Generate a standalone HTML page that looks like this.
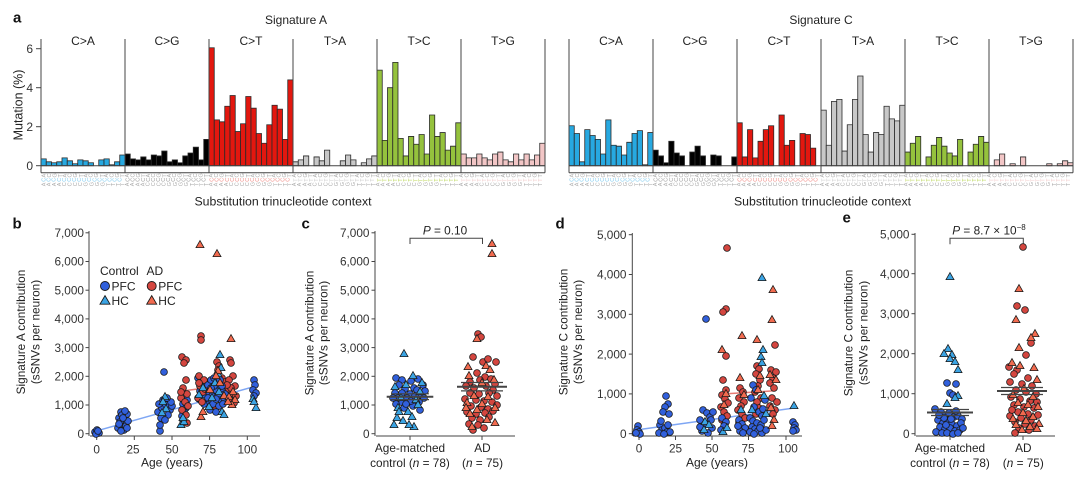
<!DOCTYPE html>
<html><head><meta charset="utf-8"><style>
html,body{margin:0;padding:0;background:#fff;}
svg{display:block;font-family:"Liberation Sans",Arial,sans-serif;}
</style></head><body>
<svg width="1080" height="479" viewBox="0 0 1080 479" xmlns="http://www.w3.org/2000/svg">
<defs>
<path id="t" d="M0,-4.4 L4,2.6 L-4,2.6 Z"/>
<path id="tl" d="M0,-5.4 L5,3.2 L-5,3.2 Z"/>
</defs>
<rect width="1080" height="479" fill="#fff"/>

<!-- ============ PANEL a ============ -->
<text x="13" y="22.7" font-size="15" font-weight="bold" fill="#111">a</text>
<text x="296" y="24" font-size="12" text-anchor="middle" fill="#222">Signature A</text>
<text x="821" y="24" font-size="12" text-anchor="middle" fill="#222">Signature C</text>

<g font-size="12" text-anchor="middle" fill="#222">
<text x="83" y="45">C&gt;A</text><text x="167" y="45">C&gt;G</text><text x="251" y="45">C&gt;T</text>
<text x="335" y="45">T&gt;A</text><text x="419" y="45">T&gt;C</text><text x="503" y="45">T&gt;G</text>
<text x="611" y="45">C&gt;A</text><text x="695" y="45">C&gt;G</text><text x="779" y="45">C&gt;T</text>
<text x="863" y="45">T&gt;A</text><text x="947" y="45">T&gt;C</text><text x="1031" y="45">T&gt;G</text>
</g>

<text transform="translate(22.5,105) rotate(-90)" font-size="12.5" text-anchor="middle" fill="#222">Mutation (%)</text>
<g font-size="12" text-anchor="end" fill="#333">
<text x="33" y="52.9">6</text><text x="33" y="91.9">4</text><text x="33" y="130.9">2</text><text x="33" y="169.9">0</text>
</g>
<g stroke="#444" stroke-width="1">
<line x1="36" y1="48.7" x2="41" y2="48.7"/><line x1="36" y1="87.7" x2="41" y2="87.7"/>
<line x1="36" y1="126.7" x2="41" y2="126.7"/><line x1="36" y1="165.7" x2="41" y2="165.7"/>
</g>

<!-- Signature A bars -->
<g transform="translate(41,165.7) scale(5.25,-19.5)" stroke="#2a2a2a" stroke-width="0.8">
<g fill="#27a9e1">
<rect vector-effect="non-scaling-stroke" x="0" width="1" height="0.35"/><rect vector-effect="non-scaling-stroke" x="1" width="1" height="0.2"/><rect vector-effect="non-scaling-stroke" x="2" width="1" height="0.15"/><rect vector-effect="non-scaling-stroke" x="3" width="1" height="0.2"/><rect vector-effect="non-scaling-stroke" x="4" width="1" height="0.4"/><rect vector-effect="non-scaling-stroke" x="5" width="1" height="0.25"/><rect vector-effect="non-scaling-stroke" x="6" width="1" height="0.1"/><rect vector-effect="non-scaling-stroke" x="7" width="1" height="0.3"/><rect vector-effect="non-scaling-stroke" x="8" width="1" height="0.25"/><rect vector-effect="non-scaling-stroke" x="9" width="1" height="0.15"/><rect vector-effect="non-scaling-stroke" x="11" width="1" height="0.3"/><rect vector-effect="non-scaling-stroke" x="12" width="1" height="0.35"/><rect vector-effect="non-scaling-stroke" x="13" width="1" height="0.05"/><rect vector-effect="non-scaling-stroke" x="14" width="1" height="0.2"/><rect vector-effect="non-scaling-stroke" x="15" width="1" height="0.55"/>
</g>
<g fill="#000">
<rect vector-effect="non-scaling-stroke" x="16" width="1" height="0.6"/><rect vector-effect="non-scaling-stroke" x="17" width="1" height="0.35"/><rect vector-effect="non-scaling-stroke" x="18" width="1" height="0.3"/><rect vector-effect="non-scaling-stroke" x="19" width="1" height="0.45"/><rect vector-effect="non-scaling-stroke" x="20" width="1" height="0.3"/><rect vector-effect="non-scaling-stroke" x="21" width="1" height="0.55"/><rect vector-effect="non-scaling-stroke" x="22" width="1" height="0.5"/><rect vector-effect="non-scaling-stroke" x="23" width="1" height="0.75"/><rect vector-effect="non-scaling-stroke" x="24" width="1" height="0.2"/><rect vector-effect="non-scaling-stroke" x="25" width="1" height="0.3"/><rect vector-effect="non-scaling-stroke" x="26" width="1" height="0.15"/><rect vector-effect="non-scaling-stroke" x="27" width="1" height="0.5"/><rect vector-effect="non-scaling-stroke" x="28" width="1" height="0.65"/><rect vector-effect="non-scaling-stroke" x="29" width="1" height="0.95"/><rect vector-effect="non-scaling-stroke" x="30" width="1" height="0.3"/><rect vector-effect="non-scaling-stroke" x="31" width="1" height="1.35"/>
</g>
<g fill="#e3170f">
<rect vector-effect="non-scaling-stroke" x="32" width="1" height="6.05"/><rect vector-effect="non-scaling-stroke" x="33" width="1" height="2.35"/><rect vector-effect="non-scaling-stroke" x="34" width="1" height="2.25"/><rect vector-effect="non-scaling-stroke" x="35" width="1" height="3.05"/><rect vector-effect="non-scaling-stroke" x="36" width="1" height="3.6"/><rect vector-effect="non-scaling-stroke" x="37" width="1" height="1.75"/><rect vector-effect="non-scaling-stroke" x="38" width="1" height="2.15"/><rect vector-effect="non-scaling-stroke" x="39" width="1" height="3.55"/><rect vector-effect="non-scaling-stroke" x="40" width="1" height="2.95"/><rect vector-effect="non-scaling-stroke" x="41" width="1" height="1.65"/><rect vector-effect="non-scaling-stroke" x="42" width="1" height="1.15"/><rect vector-effect="non-scaling-stroke" x="43" width="1" height="2.1"/><rect vector-effect="non-scaling-stroke" x="44" width="1" height="3.1"/><rect vector-effect="non-scaling-stroke" x="45" width="1" height="2.9"/><rect vector-effect="non-scaling-stroke" x="46" width="1" height="1.35"/><rect vector-effect="non-scaling-stroke" x="47" width="1" height="4.4"/>
</g>
<g fill="#c8c8c8">
<rect vector-effect="non-scaling-stroke" x="48" width="1" height="0.2"/><rect vector-effect="non-scaling-stroke" x="49" width="1" height="0.3"/><rect vector-effect="non-scaling-stroke" x="50" width="1" height="0.5"/><rect vector-effect="non-scaling-stroke" x="52" width="1" height="0.45"/><rect vector-effect="non-scaling-stroke" x="53" width="1" height="0.25"/><rect vector-effect="non-scaling-stroke" x="54" width="1" height="0.8"/><rect vector-effect="non-scaling-stroke" x="57" width="1" height="0.25"/><rect vector-effect="non-scaling-stroke" x="58" width="1" height="0.55"/><rect vector-effect="non-scaling-stroke" x="59" width="1" height="0.3"/><rect vector-effect="non-scaling-stroke" x="61" width="1" height="0.15"/><rect vector-effect="non-scaling-stroke" x="62" width="1" height="0.35"/><rect vector-effect="non-scaling-stroke" x="63" width="1" height="0.5"/>
</g>
<g fill="#95c23d">
<rect vector-effect="non-scaling-stroke" x="64" width="1" height="4.9"/><rect vector-effect="non-scaling-stroke" x="65" width="1" height="1.3"/><rect vector-effect="non-scaling-stroke" x="66" width="1" height="4.0"/><rect vector-effect="non-scaling-stroke" x="67" width="1" height="5.3"/><rect vector-effect="non-scaling-stroke" x="68" width="1" height="1.4"/><rect vector-effect="non-scaling-stroke" x="69" width="1" height="0.5"/><rect vector-effect="non-scaling-stroke" x="70" width="1" height="1.5"/><rect vector-effect="non-scaling-stroke" x="71" width="1" height="1.1"/><rect vector-effect="non-scaling-stroke" x="72" width="1" height="1.6"/><rect vector-effect="non-scaling-stroke" x="73" width="1" height="0.6"/><rect vector-effect="non-scaling-stroke" x="74" width="1" height="2.6"/><rect vector-effect="non-scaling-stroke" x="75" width="1" height="1.5"/><rect vector-effect="non-scaling-stroke" x="76" width="1" height="1.7"/><rect vector-effect="non-scaling-stroke" x="77" width="1" height="0.8"/><rect vector-effect="non-scaling-stroke" x="78" width="1" height="1.0"/><rect vector-effect="non-scaling-stroke" x="79" width="1" height="2.2"/>
</g>
<g fill="#f2c6c6">
<rect vector-effect="non-scaling-stroke" x="80" width="1" height="0.6"/><rect vector-effect="non-scaling-stroke" x="81" width="1" height="0.4"/><rect vector-effect="non-scaling-stroke" x="82" width="1" height="0.4"/><rect vector-effect="non-scaling-stroke" x="83" width="1" height="0.6"/><rect vector-effect="non-scaling-stroke" x="84" width="1" height="0.4"/><rect vector-effect="non-scaling-stroke" x="85" width="1" height="0.3"/><rect vector-effect="non-scaling-stroke" x="86" width="1" height="0.6"/><rect vector-effect="non-scaling-stroke" x="87" width="1" height="0.7"/><rect vector-effect="non-scaling-stroke" x="88" width="1" height="0.3"/><rect vector-effect="non-scaling-stroke" x="89" width="1" height="0.2"/><rect vector-effect="non-scaling-stroke" x="90" width="1" height="0.6"/><rect vector-effect="non-scaling-stroke" x="91" width="1" height="0.3"/><rect vector-effect="non-scaling-stroke" x="92" width="1" height="0.6"/><rect vector-effect="non-scaling-stroke" x="93" width="1" height="0.3"/><rect vector-effect="non-scaling-stroke" x="94" width="1" height="0.55"/><rect vector-effect="non-scaling-stroke" x="95" width="1" height="1.15"/>
</g>
</g>

<!-- Signature C bars -->
<g transform="translate(569,165.7) scale(5.25,-19.5)" stroke="#2a2a2a" stroke-width="0.8">
<g fill="#27a9e1">
<rect vector-effect="non-scaling-stroke" x="0" width="1" height="2.05"/><rect vector-effect="non-scaling-stroke" x="1" width="1" height="1.65"/><rect vector-effect="non-scaling-stroke" x="2" width="1" height="0.2"/><rect vector-effect="non-scaling-stroke" x="3" width="1" height="1.85"/><rect vector-effect="non-scaling-stroke" x="4" width="1" height="1.55"/><rect vector-effect="non-scaling-stroke" x="5" width="1" height="1.35"/><rect vector-effect="non-scaling-stroke" x="6" width="1" height="0.6"/><rect vector-effect="non-scaling-stroke" x="7" width="1" height="2.35"/><rect vector-effect="non-scaling-stroke" x="8" width="1" height="1.05"/><rect vector-effect="non-scaling-stroke" x="9" width="1" height="1.0"/><rect vector-effect="non-scaling-stroke" x="10" width="1" height="0.55"/><rect vector-effect="non-scaling-stroke" x="11" width="1" height="1.2"/><rect vector-effect="non-scaling-stroke" x="12" width="1" height="1.65"/><rect vector-effect="non-scaling-stroke" x="13" width="1" height="1.8"/><rect vector-effect="non-scaling-stroke" x="14" width="1" height="0.05"/><rect vector-effect="non-scaling-stroke" x="15" width="1" height="1.7"/>
</g>
<g fill="#000">
<rect vector-effect="non-scaling-stroke" x="16" width="1" height="0.8"/><rect vector-effect="non-scaling-stroke" x="17" width="1" height="0.5"/><rect vector-effect="non-scaling-stroke" x="18" width="1" height="0.15"/><rect vector-effect="non-scaling-stroke" x="19" width="1" height="1.25"/><rect vector-effect="non-scaling-stroke" x="20" width="1" height="0.65"/><rect vector-effect="non-scaling-stroke" x="21" width="1" height="0.5"/><rect vector-effect="non-scaling-stroke" x="23" width="1" height="0.7"/><rect vector-effect="non-scaling-stroke" x="24" width="1" height="1.0"/><rect vector-effect="non-scaling-stroke" x="25" width="1" height="0.5"/><rect vector-effect="non-scaling-stroke" x="27" width="1" height="0.55"/><rect vector-effect="non-scaling-stroke" x="28" width="1" height="0.5"/><rect vector-effect="non-scaling-stroke" x="31" width="1" height="0.45"/>
</g>
<g fill="#e3170f">
<rect vector-effect="non-scaling-stroke" x="32" width="1" height="2.2"/><rect vector-effect="non-scaling-stroke" x="33" width="1" height="0.45"/><rect vector-effect="non-scaling-stroke" x="34" width="1" height="1.85"/><rect vector-effect="non-scaling-stroke" x="35" width="1" height="0.4"/><rect vector-effect="non-scaling-stroke" x="36" width="1" height="1.25"/><rect vector-effect="non-scaling-stroke" x="37" width="1" height="1.85"/><rect vector-effect="non-scaling-stroke" x="38" width="1" height="2.05"/><rect vector-effect="non-scaling-stroke" x="40" width="1" height="2.6"/><rect vector-effect="non-scaling-stroke" x="41" width="1" height="1.05"/><rect vector-effect="non-scaling-stroke" x="42" width="1" height="1.3"/><rect vector-effect="non-scaling-stroke" x="44" width="1" height="1.65"/><rect vector-effect="non-scaling-stroke" x="45" width="1" height="1.6"/><rect vector-effect="non-scaling-stroke" x="46" width="1" height="0.9"/>
</g>
<g fill="#c8c8c8">
<rect vector-effect="non-scaling-stroke" x="48" width="1" height="2.85"/><rect vector-effect="non-scaling-stroke" x="49" width="1" height="1.05"/><rect vector-effect="non-scaling-stroke" x="50" width="1" height="3.3"/><rect vector-effect="non-scaling-stroke" x="51" width="1" height="3.4"/><rect vector-effect="non-scaling-stroke" x="52" width="1" height="0.75"/><rect vector-effect="non-scaling-stroke" x="53" width="1" height="2.1"/><rect vector-effect="non-scaling-stroke" x="54" width="1" height="3.4"/><rect vector-effect="non-scaling-stroke" x="55" width="1" height="4.6"/><rect vector-effect="non-scaling-stroke" x="56" width="1" height="1.6"/><rect vector-effect="non-scaling-stroke" x="57" width="1" height="0.7"/><rect vector-effect="non-scaling-stroke" x="58" width="1" height="1.7"/><rect vector-effect="non-scaling-stroke" x="59" width="1" height="1.6"/><rect vector-effect="non-scaling-stroke" x="60" width="1" height="3.05"/><rect vector-effect="non-scaling-stroke" x="61" width="1" height="2.4"/><rect vector-effect="non-scaling-stroke" x="62" width="1" height="2.3"/><rect vector-effect="non-scaling-stroke" x="63" width="1" height="3.1"/>
</g>
<g fill="#95c23d">
<rect vector-effect="non-scaling-stroke" x="64" width="1" height="0.7"/><rect vector-effect="non-scaling-stroke" x="65" width="1" height="1.15"/><rect vector-effect="non-scaling-stroke" x="66" width="1" height="1.5"/><rect vector-effect="non-scaling-stroke" x="68" width="1" height="0.45"/><rect vector-effect="non-scaling-stroke" x="69" width="1" height="1.05"/><rect vector-effect="non-scaling-stroke" x="70" width="1" height="1.45"/><rect vector-effect="non-scaling-stroke" x="71" width="1" height="1.0"/><rect vector-effect="non-scaling-stroke" x="72" width="1" height="0.65"/><rect vector-effect="non-scaling-stroke" x="73" width="1" height="0.5"/><rect vector-effect="non-scaling-stroke" x="74" width="1" height="1.35"/><rect vector-effect="non-scaling-stroke" x="76" width="1" height="0.7"/><rect vector-effect="non-scaling-stroke" x="77" width="1" height="1.1"/><rect vector-effect="non-scaling-stroke" x="78" width="1" height="1.5"/><rect vector-effect="non-scaling-stroke" x="79" width="1" height="1.2"/>
</g>
<g fill="#f2c6c6">
<rect vector-effect="non-scaling-stroke" x="81" width="1" height="0.3"/><rect vector-effect="non-scaling-stroke" x="82" width="1" height="0.6"/><rect vector-effect="non-scaling-stroke" x="84" width="1" height="0.1"/><rect vector-effect="non-scaling-stroke" x="86" width="1" height="0.45"/><rect vector-effect="non-scaling-stroke" x="91" width="1" height="0.1"/><rect vector-effect="non-scaling-stroke" x="93" width="1" height="0.1"/><rect vector-effect="non-scaling-stroke" x="94" width="1" height="0.25"/><rect vector-effect="non-scaling-stroke" x="95" width="1" height="0.15"/>
</g>
</g>

<!-- frame lines top panels -->
<g stroke="#444" stroke-width="1">
<line x1="41" y1="165.7" x2="545" y2="165.7"/><line x1="41" y1="172.7" x2="545" y2="172.7"/>
<line x1="569" y1="165.7" x2="1073" y2="165.7"/><line x1="569" y1="172.7" x2="1073" y2="172.7"/>
<line x1="41" y1="39" x2="41" y2="172.7"/><line x1="125" y1="39" x2="125" y2="172.7"/><line x1="209" y1="39" x2="209" y2="172.7"/><line x1="293" y1="39" x2="293" y2="172.7"/><line x1="377" y1="39" x2="377" y2="172.7"/><line x1="461" y1="39" x2="461" y2="172.7"/><line x1="545" y1="39" x2="545" y2="172.7"/>
<line x1="569" y1="39" x2="569" y2="172.7"/><line x1="653" y1="39" x2="653" y2="172.7"/><line x1="737" y1="39" x2="737" y2="172.7"/><line x1="821" y1="39" x2="821" y2="172.7"/><line x1="905" y1="39" x2="905" y2="172.7"/><line x1="989" y1="39" x2="989" y2="172.7"/><line x1="1073" y1="39" x2="1073" y2="172.7"/>
</g>

<!-- trinucleotide context labels -->
<g font-size="5.5" rotate="-90">
<text x="45.6" y="177.5" rotate="-90" textLength="500" lengthAdjust="spacing" fill="#aaa">ACGTACGTACGTACGTACGTACGTACGTACGTACGTACGTACGTACGTACGTACGTACGTACGTACGTACGTACGTACGTACGTACGTACGTACGT</text>
<text x="45.6" y="181.8" rotate="-90" textLength="80" lengthAdjust="spacing" fill="#7fcbef">CCCCCCCCCCCCCCCC</text>
<text x="129.6" y="181.8" rotate="-90" textLength="80" lengthAdjust="spacing" fill="#999">CCCCCCCCCCCCCCCC</text>
<text x="213.6" y="181.8" rotate="-90" textLength="80" lengthAdjust="spacing" fill="#f08a84">CCCCCCCCCCCCCCCC</text>
<text x="297.6" y="181.8" rotate="-90" textLength="80" lengthAdjust="spacing" fill="#ccc">TTTTTTTTTTTTTTTT</text>
<text x="381.6" y="181.8" rotate="-90" textLength="80" lengthAdjust="spacing" fill="#bcd65a">TTTTTTTTTTTTTTTT</text>
<text x="465.6" y="181.8" rotate="-90" textLength="80" lengthAdjust="spacing" fill="#f2cccc">TTTTTTTTTTTTTTTT</text>
<text x="45.6" y="186.3" rotate="-90" textLength="500" lengthAdjust="spacing" fill="#aaa">AAAACCCCGGGGTTTTAAAACCCCGGGGTTTTAAAACCCCGGGGTTTTAAAACCCCGGGGTTTTAAAACCCCGGGGTTTTAAAACCCCGGGGTTTT</text>

<text x="573.6" y="177.5" rotate="-90" textLength="500" lengthAdjust="spacing" fill="#aaa">ACGTACGTACGTACGTACGTACGTACGTACGTACGTACGTACGTACGTACGTACGTACGTACGTACGTACGTACGTACGTACGTACGTACGTACGT</text>
<text x="573.6" y="181.8" rotate="-90" textLength="80" lengthAdjust="spacing" fill="#7fcbef">CCCCCCCCCCCCCCCC</text>
<text x="657.6" y="181.8" rotate="-90" textLength="80" lengthAdjust="spacing" fill="#999">CCCCCCCCCCCCCCCC</text>
<text x="741.6" y="181.8" rotate="-90" textLength="80" lengthAdjust="spacing" fill="#f08a84">CCCCCCCCCCCCCCCC</text>
<text x="825.6" y="181.8" rotate="-90" textLength="80" lengthAdjust="spacing" fill="#ccc">TTTTTTTTTTTTTTTT</text>
<text x="909.6" y="181.8" rotate="-90" textLength="80" lengthAdjust="spacing" fill="#bcd65a">TTTTTTTTTTTTTTTT</text>
<text x="993.6" y="181.8" rotate="-90" textLength="80" lengthAdjust="spacing" fill="#f2cccc">TTTTTTTTTTTTTTTT</text>
<text x="573.6" y="186.3" rotate="-90" textLength="500" lengthAdjust="spacing" fill="#aaa">AAAACCCCGGGGTTTTAAAACCCCGGGGTTTTAAAACCCCGGGGTTTTAAAACCCCGGGGTTTTAAAACCCCGGGGTTTTAAAACCCCGGGGTTTT</text>
</g>

<text x="283" y="205.5" font-size="12.3" text-anchor="middle" fill="#222">Substitution trinucleotide context</text>
<text x="822.5" y="205.5" font-size="12.3" text-anchor="middle" fill="#222">Substitution trinucleotide context</text>

<!-- ============ PANEL b ============ -->
<text x="12.5" y="228.3" font-size="15" font-weight="bold" fill="#111">b</text>
<text transform="translate(25,332) rotate(-90)" font-size="11.8" text-anchor="middle" fill="#222">Signature A contribution</text>
<text transform="translate(39.3,332) rotate(-90)" font-size="11.8" text-anchor="middle" fill="#222">(sSNVs per neuron)</text>
<g font-size="11.8" text-anchor="end" fill="#333">
<text x="84" y="437.9">0</text><text x="84" y="409.2">1,000</text><text x="84" y="380.5">2,000</text><text x="84" y="351.8">3,000</text><text x="84" y="323.1">4,000</text><text x="84" y="294.4">5,000</text><text x="84" y="265.7">6,000</text><text x="84" y="237">7,000</text>
</g>
<g stroke="#444" stroke-width="1">
<line x1="89" y1="231" x2="89" y2="436"/>
<line x1="85.5" y1="433.7" x2="89" y2="433.7"/><line x1="85.5" y1="405" x2="89" y2="405"/><line x1="85.5" y1="376.3" x2="89" y2="376.3"/><line x1="85.5" y1="347.6" x2="89" y2="347.6"/><line x1="85.5" y1="318.9" x2="89" y2="318.9"/><line x1="85.5" y1="290.2" x2="89" y2="290.2"/><line x1="85.5" y1="261.5" x2="89" y2="261.5"/><line x1="85.5" y1="232.8" x2="89" y2="232.8"/>
<line x1="90" y1="436" x2="260" y2="436"/>
<line x1="96.7" y1="436" x2="96.7" y2="440"/><line x1="134.3" y1="436" x2="134.3" y2="440"/><line x1="172" y1="436" x2="172" y2="440"/><line x1="209.6" y1="436" x2="209.6" y2="440"/><line x1="247.3" y1="436" x2="247.3" y2="440"/>
</g>
<g font-size="11.8" text-anchor="middle" fill="#333">
<text x="96.7" y="453.3">0</text><text x="133" y="453.3">25</text><text x="172" y="453.3">50</text><text x="209.5" y="453.3">75</text><text x="247.3" y="453.3">100</text>
</g>
<text x="172" y="466.5" font-size="12" text-anchor="middle" fill="#222">Age (years)</text>

<!-- legend -->
<g font-size="12" fill="#222">
<text x="100" y="275">Control</text><text x="146.5" y="275">AD</text>
<text x="111.5" y="290.3">PFC</text><text x="158.3" y="290.3">PFC</text>
<text x="111.5" y="305">HC</text><text x="158.3" y="305">HC</text>
</g>
<g stroke="#1a1a1a" stroke-width="0.9">
<circle cx="105" cy="286" r="4.5" fill="#3160dc"/>
<circle cx="151.7" cy="286" r="4.5" fill="#d4463f"/>
<use href="#tl" x="105" y="301" fill="#3ba4e4"/>
<use href="#tl" x="151.7" y="301" fill="#f26b4f"/>
</g>

<line x1="97" y1="430.8" x2="255" y2="386.3" stroke="#7ea6f4" stroke-width="1.5"/>
<line x1="182.5" y1="391" x2="235" y2="384" stroke="#e77b74" stroke-width="1.5"/>

<g stroke="#1a1a1a" stroke-width="0.8">
<g fill="#3160dc">
<circle cx="95" cy="432" r="3.4"/><circle cx="97" cy="430" r="3.4"/><circle cx="99" cy="433" r="3.4"/><circle cx="96" cy="434" r="3.4"/><circle cx="98" cy="431" r="3.4"/>
<circle cx="119" cy="418" r="3.4"/><circle cx="121" cy="412" r="3.4"/><circle cx="123" cy="425" r="3.4"/><circle cx="118" cy="428" r="3.4"/><circle cx="125" cy="420" r="3.4"/><circle cx="127" cy="414" r="3.4"/><circle cx="120" cy="422" r="3.4"/><circle cx="124" cy="430" r="3.4"/><circle cx="126" cy="426" r="3.4"/><circle cx="122" cy="415" r="3.4"/><circle cx="128" cy="421" r="3.4"/><circle cx="119" cy="424" r="3.4"/><circle cx="121" cy="431" r="3.4"/><circle cx="125" cy="411" r="3.4"/><circle cx="127" cy="428" r="3.4"/><circle cx="123" cy="418" r="3.4"/>
<circle cx="164" cy="372" r="3.4"/><circle cx="160" cy="431" r="3.4"/><circle cx="158" cy="412" r="3.4"/><circle cx="162" cy="408" r="3.4"/><circle cx="166" cy="405" r="3.4"/><circle cx="170" cy="410" r="3.4"/><circle cx="172" cy="406" r="3.4"/><circle cx="168" cy="415" r="3.4"/><circle cx="161" cy="418" r="3.4"/><circle cx="165" cy="420" r="3.4"/><circle cx="159" cy="404" r="3.4"/><circle cx="163" cy="400" r="3.4"/><circle cx="171" cy="402" r="3.4"/><circle cx="167" cy="398" r="3.4"/><circle cx="160" cy="425" r="3.4"/>
<circle cx="183" cy="404" r="3.4"/><circle cx="186" cy="408" r="3.4"/><circle cx="184" cy="412" r="3.4"/><circle cx="182" cy="416" r="3.4"/><circle cx="187" cy="400" r="3.4"/>
<circle cx="198" cy="378" r="3.4"/><circle cx="202" cy="384" r="3.4"/><circle cx="205" cy="395" r="3.4"/><circle cx="199" cy="399" r="3.4"/><circle cx="204" cy="404" r="3.4"/><circle cx="200" cy="391" r="3.4"/>
<circle cx="254" cy="380" r="3.4"/><circle cx="255" cy="385" r="3.4"/><circle cx="253" cy="390" r="3.4"/><circle cx="256" cy="393" r="3.4"/><circle cx="254" cy="396" r="3.4"/>
</g>
<g fill="#d4463f">
<circle cx="182" cy="357" r="3.4"/><circle cx="186" cy="360" r="3.4"/><circle cx="184" cy="363" r="3.4"/><circle cx="186" cy="380" r="3.4"/><circle cx="183" cy="388" r="3.4"/><circle cx="187" cy="394" r="3.4"/><circle cx="181" cy="398" r="3.4"/><circle cx="185" cy="402" r="3.4"/><circle cx="188" cy="406" r="3.4"/><circle cx="182" cy="410" r="3.4"/><circle cx="186" cy="415" r="3.4"/><circle cx="183" cy="420" r="3.4"/><circle cx="187" cy="423" r="3.4"/><circle cx="181" cy="392" r="3.4"/>
<circle cx="201" cy="336" r="3.4"/><circle cx="201" cy="340" r="3.4"/><circle cx="199" cy="376" r="3.4"/><circle cx="204" cy="380" r="3.4"/><circle cx="200" cy="386" r="3.4"/><circle cx="203" cy="392" r="3.4"/><circle cx="198" cy="398" r="3.4"/><circle cx="202" cy="402" r="3.4"/><circle cx="205" cy="389" r="3.4"/><circle cx="199" cy="383" r="3.4"/>
<circle cx="217" cy="362" r="3.4"/><circle cx="219" cy="366" r="3.4"/><circle cx="218" cy="370" r="3.4"/><circle cx="214" cy="395" r="3.4"/><circle cx="211" cy="402" r="3.4"/><circle cx="216" cy="408" r="3.4"/><circle cx="222" cy="378" r="3.4"/><circle cx="225" cy="382" r="3.4"/><circle cx="213" cy="386" r="3.4"/>
<circle cx="230" cy="360" r="3.4"/><circle cx="231" cy="363" r="3.4"/><circle cx="233" cy="376" r="3.4"/><circle cx="229" cy="380" r="3.4"/><circle cx="235" cy="386" r="3.4"/><circle cx="228" cy="390" r="3.4"/><circle cx="232" cy="393" r="3.4"/><circle cx="236" cy="396" r="3.4"/><circle cx="230" cy="400" r="3.4"/><circle cx="234" cy="403" r="3.4"/><circle cx="231" cy="388" r="3.4"/><circle cx="227" cy="385" r="3.4"/>
</g>
<g fill="#3160dc">
<circle cx="208" cy="385" r="3.4"/><circle cx="211" cy="380" r="3.4"/><circle cx="214" cy="378" r="3.4"/><circle cx="217" cy="384" r="3.4"/><circle cx="220" cy="388" r="3.4"/><circle cx="223" cy="392" r="3.4"/><circle cx="209" cy="392" r="3.4"/><circle cx="212" cy="396" r="3.4"/><circle cx="215" cy="390" r="3.4"/><circle cx="218" cy="396" r="3.4"/><circle cx="221" cy="400" r="3.4"/><circle cx="224" cy="398" r="3.4"/><circle cx="210" cy="402" r="3.4"/><circle cx="213" cy="404" r="3.4"/><circle cx="216" cy="399" r="3.4"/><circle cx="219" cy="406" r="3.4"/><circle cx="222" cy="386" r="3.4"/><circle cx="225" cy="394" r="3.4"/><circle cx="208" cy="398" r="3.4"/><circle cx="214" cy="386" r="3.4"/><circle cx="217" cy="378" r="3.4"/><circle cx="211" cy="388" r="3.4"/><circle cx="220" cy="380" r="3.4"/><circle cx="223" cy="404" r="3.4"/><circle cx="210" cy="410" r="3.4"/><circle cx="216" cy="412" r="3.4"/>
</g>
<g fill="#3ba4e4">
<use href="#t" x="165" y="397"/><use href="#t" x="163" y="402"/><use href="#t" x="166" y="409"/><use href="#t" x="162" y="413"/>
<use href="#t" x="181" y="425"/><use href="#t" x="184" y="422"/><use href="#t" x="183" y="418"/>
<use href="#t" x="203" y="388"/><use href="#t" x="199" y="395"/>
<use href="#t" x="220" y="355"/><use href="#t" x="221" y="368"/><use href="#t" x="218" y="374"/><use href="#t" x="209" y="407"/><use href="#t" x="222" y="412"/><use href="#t" x="224" y="415"/><use href="#t" x="212" y="398"/><use href="#t" x="215" y="383"/><use href="#t" x="219" y="392"/>
<use href="#t" x="253" y="399"/><use href="#t" x="256" y="408"/><use href="#t" x="254" y="402"/>
</g>
<g fill="#f26b4f">
<use href="#t" x="200" y="245"/><use href="#t" x="201" y="417"/><use href="#t" x="203" y="412"/>
<use href="#t" x="217" y="254"/><use href="#t" x="218" y="371"/><use href="#t" x="216" y="376"/><use href="#t" x="220" y="383"/><use href="#t" x="224" y="396"/><use href="#t" x="210" y="390"/>
<use href="#t" x="231" y="339"/><use href="#t" x="233" y="392"/><use href="#t" x="229" y="397"/><use href="#t" x="235" y="400"/><use href="#t" x="232" y="405"/><use href="#t" x="228" y="402"/>
</g>
</g>

<!-- ============ PANEL c ============ -->
<text x="301.5" y="228.3" font-size="15" font-weight="bold" fill="#111">c</text>
<text transform="translate(313.3,333) rotate(-90)" font-size="11.8" text-anchor="middle" fill="#222">Signature A contribution</text>
<text transform="translate(327.6,333) rotate(-90)" font-size="11.8" text-anchor="middle" fill="#222">(sSNVs per neuron)</text>
<g font-size="11.8" text-anchor="end" fill="#333">
<text x="369.5" y="437.9">0</text><text x="369.5" y="409.2">1,000</text><text x="369.5" y="380.5">2,000</text><text x="369.5" y="351.8">3,000</text><text x="369.5" y="323.1">4,000</text><text x="369.5" y="294.4">5,000</text><text x="369.5" y="265.7">6,000</text><text x="369.5" y="237">7,000</text>
</g>
<g stroke="#444" stroke-width="1" fill="none">
<line x1="375" y1="231" x2="375" y2="436"/>
<line x1="371.5" y1="433.7" x2="375" y2="433.7"/><line x1="371.5" y1="405" x2="375" y2="405"/><line x1="371.5" y1="376.3" x2="375" y2="376.3"/><line x1="371.5" y1="347.6" x2="375" y2="347.6"/><line x1="371.5" y1="318.9" x2="375" y2="318.9"/><line x1="371.5" y1="290.2" x2="375" y2="290.2"/><line x1="371.5" y1="261.5" x2="375" y2="261.5"/><line x1="371.5" y1="232.8" x2="375" y2="232.8"/>
<line x1="376" y1="436" x2="515" y2="436"/>
<line x1="410" y1="436" x2="410" y2="440"/><line x1="482" y1="436" x2="482" y2="440"/>
<path d="M410,244 L410,238.3 L482.5,238.3 L482.5,244"/>
</g>
<text x="445" y="234.5" font-size="11.8" text-anchor="middle" fill="#222"><tspan font-style="italic">P</tspan> = 0.10</text>
<g font-size="11.8" text-anchor="middle" fill="#222">
<text x="410" y="452">Age-matched</text><text x="410" y="467">control (<tspan font-style="italic">n</tspan> = 78)</text>
<text x="482.5" y="452">AD</text><text x="482.5" y="467">(<tspan font-style="italic">n</tspan> = 75)</text>
</g>

<g stroke="#1a1a1a" stroke-width="0.8">
<g fill="#3160dc">
<circle cx="396" cy="378" r="3.4"/><circle cx="402" cy="380" r="3.4"/><circle cx="411" cy="381" r="3.4"/><circle cx="418" cy="379" r="3.4"/><circle cx="423" cy="385" r="3.4"/><circle cx="399" cy="385" r="3.4"/><circle cx="405" cy="389" r="3.4"/><circle cx="414" cy="388" r="3.4"/><circle cx="421" cy="395" r="3.4"/><circle cx="395" cy="393" r="3.4"/><circle cx="410" cy="394" r="3.4"/><circle cx="417" cy="390" r="3.4"/><circle cx="401" cy="402" r="3.4"/><circle cx="407" cy="398" r="3.4"/><circle cx="424" cy="398" r="3.4"/><circle cx="398" cy="398" r="3.4"/><circle cx="413" cy="406" r="3.4"/><circle cx="420" cy="410" r="3.4"/><circle cx="404" cy="408" r="3.4"/><circle cx="396" cy="404" r="3.4"/><circle cx="411" cy="401" r="3.4"/><circle cx="419" cy="402" r="3.4"/><circle cx="402" cy="393" r="3.4"/><circle cx="415" cy="396" r="3.4"/><circle cx="406" cy="404" r="3.4"/><circle cx="393" cy="398" r="3.4"/><circle cx="425" cy="391" r="3.4"/>
</g>
<g fill="#3ba4e4">
<use href="#t" x="404" y="354"/><use href="#t" x="413" y="376"/><use href="#t" x="395" y="387"/><use href="#t" x="420" y="392"/><use href="#t" x="401" y="398"/><use href="#t" x="416" y="400"/><use href="#t" x="398" y="408"/><use href="#t" x="408" y="412"/><use href="#t" x="397" y="418"/><use href="#t" x="412" y="417"/><use href="#t" x="403" y="421"/><use href="#t" x="394" y="425"/><use href="#t" x="414" y="427"/><use href="#t" x="409" y="425"/><use href="#t" x="418" y="405"/><use href="#t" x="406" y="385"/><use href="#t" x="399" y="412"/><use href="#t" x="422" y="383"/>
</g>
<g fill="#d4463f">
<circle cx="478" cy="334" r="3.4"/><circle cx="481" cy="337" r="3.4"/><circle cx="473" cy="357" r="3.4"/><circle cx="483" cy="362" r="3.4"/><circle cx="488" cy="359" r="3.4"/><circle cx="496" cy="362" r="3.4"/><circle cx="477" cy="373" r="3.4"/><circle cx="485" cy="377" r="3.4"/><circle cx="491" cy="379" r="3.4"/><circle cx="470" cy="382" r="3.4"/><circle cx="480" cy="380" r="3.4"/><circle cx="495" cy="384" r="3.4"/><circle cx="466" cy="386" r="3.4"/><circle cx="474" cy="388" r="3.4"/><circle cx="486" cy="386" r="3.4"/><circle cx="493" cy="390" r="3.4"/><circle cx="470" cy="393" r="3.4"/><circle cx="479" cy="394" r="3.4"/><circle cx="489" cy="393" r="3.4"/><circle cx="497" cy="396" r="3.4"/><circle cx="465" cy="399" r="3.4"/><circle cx="476" cy="400" r="3.4"/><circle cx="484" cy="401" r="3.4"/><circle cx="492" cy="402" r="3.4"/><circle cx="471" cy="406" r="3.4"/><circle cx="481" cy="407" r="3.4"/><circle cx="488" cy="409" r="3.4"/><circle cx="497" cy="405" r="3.4"/><circle cx="467" cy="412" r="3.4"/><circle cx="476" cy="414" r="3.4"/><circle cx="485" cy="413" r="3.4"/><circle cx="493" cy="411" r="3.4"/><circle cx="472" cy="418" r="3.4"/><circle cx="480" cy="420" r="3.4"/><circle cx="489" cy="417" r="3.4"/><circle cx="469" cy="424" r="3.4"/><circle cx="478" cy="425" r="3.4"/><circle cx="473" cy="430" r="3.4"/><circle cx="484" cy="428" r="3.4"/>
</g>
<g fill="#f26b4f">
<use href="#t" x="477" y="339"/><use href="#t" x="492" y="244"/><use href="#t" x="492" y="254"/><use href="#t" x="468" y="367"/><use href="#t" x="486" y="366"/><use href="#t" x="490" y="370"/><use href="#t" x="469" y="376"/><use href="#t" x="482" y="383"/><use href="#t" x="494" y="380"/><use href="#t" x="474" y="396"/><use href="#t" x="488" y="397"/><use href="#t" x="467" y="403"/><use href="#t" x="482" y="404"/><use href="#t" x="495" y="408"/><use href="#t" x="477" y="410"/><use href="#t" x="470" y="414"/><use href="#t" x="487" y="420"/><use href="#t" x="495" y="423"/><use href="#t" x="472" y="427"/><use href="#t" x="466" y="408"/>
</g>
</g>
<g stroke="#444">
<line x1="386.7" y1="396.7" x2="433.3" y2="396.7" stroke-width="2"/>
<line x1="391" y1="393.8" x2="429" y2="393.8" stroke-width="1.2"/><line x1="391" y1="399.6" x2="429" y2="399.6" stroke-width="1.2"/>
<line x1="457" y1="386.7" x2="507" y2="386.7" stroke-width="2"/>
<line x1="461" y1="382.5" x2="503" y2="382.5" stroke-width="1.2"/><line x1="461" y1="390.9" x2="503" y2="390.9" stroke-width="1.2"/>
</g>

<!-- ============ PANEL d ============ -->
<text x="555.5" y="228.3" font-size="15" font-weight="bold" fill="#111">d</text>
<text transform="translate(567.6,332) rotate(-90)" font-size="11.8" text-anchor="middle" fill="#222">Signature C contribution</text>
<text transform="translate(582,332) rotate(-90)" font-size="11.8" text-anchor="middle" fill="#222">(sSNVs per neuron)</text>
<g font-size="11.8" text-anchor="end" fill="#333">
<text x="626.5" y="437.9">0</text><text x="626.5" y="398.1">1,000</text><text x="626.5" y="358.3">2,000</text><text x="626.5" y="318.5">3,000</text><text x="626.5" y="278.7">4,000</text><text x="626.5" y="238.9">5,000</text>
</g>
<g stroke="#444" stroke-width="1">
<line x1="632.3" y1="233" x2="632.3" y2="436"/>
<line x1="628.8" y1="433.7" x2="632.3" y2="433.7"/><line x1="628.8" y1="393.9" x2="632.3" y2="393.9"/><line x1="628.8" y1="354.1" x2="632.3" y2="354.1"/><line x1="628.8" y1="314.3" x2="632.3" y2="314.3"/><line x1="628.8" y1="274.5" x2="632.3" y2="274.5"/><line x1="628.8" y1="234.7" x2="632.3" y2="234.7"/>
<line x1="633" y1="436" x2="802" y2="436"/>
<line x1="639" y1="436" x2="639" y2="440"/><line x1="675.5" y1="436" x2="675.5" y2="440"/><line x1="712" y1="436" x2="712" y2="440"/><line x1="748.5" y1="436" x2="748.5" y2="440"/><line x1="786" y1="436" x2="786" y2="440"/>
</g>
<g font-size="11.8" text-anchor="middle" fill="#333">
<text x="639" y="452.7">0</text><text x="675.5" y="452.7">25</text><text x="712" y="452.7">50</text><text x="748" y="452.7">75</text><text x="788" y="452.7">100</text>
</g>
<text x="717" y="466.5" font-size="12" text-anchor="middle" fill="#222">Age (years)</text>

<line x1="638" y1="429.7" x2="795" y2="407.9" stroke="#7ea6f4" stroke-width="1.5"/>
<line x1="722.7" y1="394" x2="774.5" y2="390.8" stroke="#e77b74" stroke-width="1.5"/>

<g stroke="#1a1a1a" stroke-width="0.8">
<g fill="#d4463f">
<circle cx="727" cy="248" r="3.4"/><circle cx="726" cy="309" r="3.4"/><circle cx="723" cy="312" r="3.4"/><circle cx="726" cy="356" r="3.4"/><circle cx="723" cy="380" r="3.4"/><circle cx="726" cy="390" r="3.4"/><circle cx="722" cy="395" r="3.4"/><circle cx="725" cy="399" r="3.4"/><circle cx="728" cy="403" r="3.4"/><circle cx="721" cy="407" r="3.4"/><circle cx="724" cy="412" r="3.4"/><circle cx="727" cy="416" r="3.4"/><circle cx="722" cy="420" r="3.4"/><circle cx="725" cy="424" r="3.4"/>
<circle cx="740" cy="388" r="3.4"/><circle cx="743" cy="392" r="3.4"/><circle cx="739" cy="398" r="3.4"/><circle cx="744" cy="402" r="3.4"/><circle cx="741" cy="406" r="3.4"/><circle cx="738" cy="410" r="3.4"/><circle cx="742" cy="414" r="3.4"/><circle cx="745" cy="418" r="3.4"/><circle cx="739" cy="422" r="3.4"/>
<circle cx="757" cy="366" r="3.4"/><circle cx="759" cy="369" r="3.4"/><circle cx="756" cy="374" r="3.4"/><circle cx="760" cy="380" r="3.4"/><circle cx="758" cy="386" r="3.4"/><circle cx="755" cy="392" r="3.4"/><circle cx="761" cy="398" r="3.4"/><circle cx="757" cy="402" r="3.4"/><circle cx="759" cy="408" r="3.4"/><circle cx="756" cy="414" r="3.4"/>
<circle cx="775" cy="345" r="3.4"/><circle cx="771" cy="370" r="3.4"/><circle cx="776" cy="372" r="3.4"/><circle cx="773" cy="378" r="3.4"/><circle cx="770" cy="383" r="3.4"/><circle cx="774" cy="388" r="3.4"/><circle cx="772" cy="398" r="3.4"/><circle cx="777" cy="402" r="3.4"/><circle cx="770" cy="406" r="3.4"/><circle cx="775" cy="410" r="3.4"/><circle cx="773" cy="414" r="3.4"/>
</g>
<g fill="#3160dc">
<circle cx="638" cy="426" r="3.4"/><circle cx="637" cy="430" r="3.4"/><circle cx="639" cy="432" r="3.4"/><circle cx="640" cy="434" r="3.4"/><circle cx="636" cy="433" r="3.4"/>
<circle cx="666" cy="396" r="3.4"/><circle cx="668" cy="404" r="3.4"/><circle cx="665" cy="407" r="3.4"/><circle cx="663" cy="412" r="3.4"/><circle cx="669" cy="414" r="3.4"/><circle cx="660" cy="425" r="3.4"/><circle cx="662" cy="430" r="3.4"/><circle cx="665" cy="428" r="3.4"/><circle cx="667" cy="432" r="3.4"/><circle cx="659" cy="433" r="3.4"/><circle cx="661" cy="421" r="3.4"/><circle cx="668" cy="425" r="3.4"/><circle cx="670" cy="432" r="3.4"/><circle cx="664" cy="434" r="3.4"/>
<circle cx="706" cy="319" r="3.4"/><circle cx="703" cy="410" r="3.4"/><circle cx="707" cy="413" r="3.4"/><circle cx="710" cy="417" r="3.4"/><circle cx="700" cy="420" r="3.4"/><circle cx="705" cy="424" r="3.4"/><circle cx="712" cy="428" r="3.4"/><circle cx="702" cy="431" r="3.4"/><circle cx="708" cy="433" r="3.4"/><circle cx="711" cy="420" r="3.4"/><circle cx="713" cy="412" r="3.4"/><circle cx="700" cy="427" r="3.4"/>
<circle cx="722" cy="418" r="3.4"/><circle cx="726" cy="422" r="3.4"/><circle cx="724" cy="426" r="3.4"/><circle cx="721" cy="430" r="3.4"/>
<circle cx="739" cy="420" r="3.4"/><circle cx="742" cy="424" r="3.4"/><circle cx="745" cy="428" r="3.4"/><circle cx="740" cy="431" r="3.4"/><circle cx="743" cy="433" r="3.4"/><circle cx="738" cy="426" r="3.4"/>
<circle cx="753" cy="385" r="3.4"/><circle cx="756" cy="390" r="3.4"/><circle cx="751" cy="398" r="3.4"/><circle cx="765" cy="400" r="3.4"/><circle cx="754" cy="407" r="3.4"/><circle cx="759" cy="412" r="3.4"/><circle cx="762" cy="416" r="3.4"/><circle cx="750" cy="418" r="3.4"/><circle cx="753" cy="421" r="3.4"/><circle cx="757" cy="423" r="3.4"/><circle cx="761" cy="425" r="3.4"/><circle cx="764" cy="420" r="3.4"/><circle cx="752" cy="427" r="3.4"/><circle cx="755" cy="429" r="3.4"/><circle cx="758" cy="431" r="3.4"/><circle cx="762" cy="433" r="3.4"/><circle cx="766" cy="430" r="3.4"/><circle cx="750" cy="432" r="3.4"/><circle cx="754" cy="434" r="3.4"/><circle cx="760" cy="428" r="3.4"/><circle cx="763" cy="409" r="3.4"/>
<circle cx="793" cy="422" r="3.4"/><circle cx="795" cy="425" r="3.4"/><circle cx="794" cy="428" r="3.4"/><circle cx="796" cy="430" r="3.4"/><circle cx="793" cy="431" r="3.4"/>
</g>
<g fill="#3ba4e4">
<use href="#t" x="705" y="422"/><use href="#t" x="709" y="425"/><use href="#t" x="704" y="430"/>
<use href="#t" x="723" y="432"/><use href="#t" x="727" y="428"/>
<use href="#t" x="741" y="410"/>
<use href="#t" x="762" y="278"/><use href="#t" x="763" y="350"/><use href="#t" x="761" y="357"/><use href="#t" x="762" y="363"/><use href="#t" x="764" y="396"/><use href="#t" x="752" y="410"/><use href="#t" x="766" y="414"/>
<use href="#t" x="794" y="406"/>
</g>
<g fill="#f26b4f">
<use href="#t" x="722" y="350"/><use href="#t" x="726" y="394"/><use href="#t" x="724" y="405"/>
<use href="#t" x="742" y="336"/><use href="#t" x="740" y="378"/><use href="#t" x="744" y="395"/>
<use href="#t" x="757" y="340"/><use href="#t" x="760" y="376"/><use href="#t" x="758" y="390"/>
<use href="#t" x="773" y="290"/><use href="#t" x="772" y="320"/><use href="#t" x="770" y="375"/><use href="#t" x="776" y="380"/><use href="#t" x="771" y="408"/><use href="#t" x="774" y="420"/><use href="#t" x="772" y="426"/>
</g>
</g>

<!-- ============ PANEL e ============ -->
<text x="842.5" y="222.3" font-size="15" font-weight="bold" fill="#111">e</text>
<text transform="translate(852.6,333) rotate(-90)" font-size="11.8" text-anchor="middle" fill="#222">Signature C contribution</text>
<text transform="translate(867.3,333) rotate(-90)" font-size="11.8" text-anchor="middle" fill="#222">(sSNVs per neuron)</text>
<g font-size="11.8" text-anchor="end" fill="#333">
<text x="909.5" y="437.9">0</text><text x="909.5" y="397.9">1,000</text><text x="909.5" y="357.9">2,000</text><text x="909.5" y="317.9">3,000</text><text x="909.5" y="277.9">4,000</text><text x="909.5" y="238.5">5,000</text>
</g>
<g stroke="#444" stroke-width="1" fill="none">
<line x1="915" y1="233" x2="915" y2="436"/>
<line x1="911.5" y1="433.7" x2="915" y2="433.7"/><line x1="911.5" y1="393.7" x2="915" y2="393.7"/><line x1="911.5" y1="353.7" x2="915" y2="353.7"/><line x1="911.5" y1="313.7" x2="915" y2="313.7"/><line x1="911.5" y1="273.7" x2="915" y2="273.7"/><line x1="911.5" y1="234.3" x2="915" y2="234.3"/>
<line x1="916" y1="436" x2="1055" y2="436"/>
<line x1="950" y1="436" x2="950" y2="440"/><line x1="1023" y1="436" x2="1023" y2="440"/>
<path d="M950,244.3 L950,238.3 L1023.3,238.3 L1023.3,244.3"/>
</g>
<text x="989" y="234.3" font-size="11.8" text-anchor="middle" fill="#222"><tspan font-style="italic">P</tspan> = 8.7 × 10<tspan font-size="8" dy="-4.5">−8</tspan></text>
<g font-size="11.8" text-anchor="middle" fill="#222">
<text x="950" y="452">Age-matched</text><text x="950" y="467">control (<tspan font-style="italic">n</tspan> = 78)</text>
<text x="1023.3" y="452">AD</text><text x="1023.3" y="467">(<tspan font-style="italic">n</tspan> = 75)</text>
</g>

<g stroke="#1a1a1a" stroke-width="0.8">
<g fill="#3160dc">
<circle cx="947" cy="383" r="3.4"/><circle cx="956" cy="384" r="3.4"/><circle cx="950" cy="393" r="3.4"/><circle cx="953" cy="395" r="3.4"/><circle cx="935" cy="409" r="3.4"/><circle cx="941" cy="412" r="3.4"/><circle cx="945" cy="415" r="3.4"/><circle cx="949" cy="413" r="3.4"/><circle cx="954" cy="417" r="3.4"/><circle cx="958" cy="416" r="3.4"/><circle cx="962" cy="419" r="3.4"/><circle cx="938" cy="420" r="3.4"/><circle cx="943" cy="423" r="3.4"/><circle cx="948" cy="421" r="3.4"/><circle cx="952" cy="424" r="3.4"/><circle cx="957" cy="426" r="3.4"/><circle cx="961" cy="423" r="3.4"/><circle cx="940" cy="427" r="3.4"/><circle cx="945" cy="429" r="3.4"/><circle cx="950" cy="428" r="3.4"/><circle cx="955" cy="431" r="3.4"/><circle cx="960" cy="430" r="3.4"/><circle cx="936" cy="432" r="3.4"/><circle cx="942" cy="433" r="3.4"/><circle cx="947" cy="433" r="3.4"/><circle cx="953" cy="434" r="3.4"/><circle cx="958" cy="433" r="3.4"/><circle cx="963" cy="428" r="3.4"/><circle cx="944" cy="418" r="3.4"/><circle cx="951" cy="419" r="3.4"/><circle cx="939" cy="415" r="3.4"/><circle cx="956" cy="411" r="3.4"/><circle cx="946" cy="425" r="3.4"/>
</g>
<g fill="#3ba4e4">
<use href="#t" x="950" y="277"/><use href="#t" x="948" y="349"/><use href="#t" x="944" y="354"/><use href="#t" x="952" y="355"/><use href="#t" x="950" y="359"/><use href="#t" x="955" y="362"/><use href="#t" x="958" y="396"/><use href="#t" x="955" y="398"/><use href="#t" x="947" y="404"/><use href="#t" x="958" y="370"/>
</g>
<g fill="#d4463f">
<circle cx="1023" cy="247" r="3.4"/><circle cx="1017" cy="306" r="3.4"/><circle cx="1025" cy="310" r="3.4"/><circle cx="1031" cy="343" r="3.4"/><circle cx="1026" cy="355" r="3.4"/><circle cx="1009" cy="367" r="3.4"/><circle cx="1017" cy="370" r="3.4"/><circle cx="1014" cy="374" r="3.4"/><circle cx="1028" cy="378" r="3.4"/><circle cx="1010" cy="382" r="3.4"/><circle cx="1022" cy="384" r="3.4"/><circle cx="1032" cy="386" r="3.4"/><circle cx="1016" cy="390" r="3.4"/><circle cx="1026" cy="392" r="3.4"/><circle cx="1036" cy="394" r="3.4"/><circle cx="1011" cy="397" r="3.4"/><circle cx="1020" cy="399" r="3.4"/><circle cx="1030" cy="401" r="3.4"/><circle cx="1014" cy="405" r="3.4"/><circle cx="1024" cy="407" r="3.4"/><circle cx="1034" cy="408" r="3.4"/><circle cx="1018" cy="412" r="3.4"/><circle cx="1028" cy="414" r="3.4"/><circle cx="1010" cy="416" r="3.4"/><circle cx="1038" cy="415" r="3.4"/><circle cx="1021" cy="418" r="3.4"/><circle cx="1031" cy="420" r="3.4"/><circle cx="1015" cy="422" r="3.4"/><circle cx="1025" cy="424" r="3.4"/><circle cx="1035" cy="426" r="3.4"/><circle cx="1019" cy="428" r="3.4"/><circle cx="1029" cy="430" r="3.4"/><circle cx="1015" cy="433" r="3.4"/><circle cx="1012" cy="410" r="3.4"/><circle cx="1037" cy="402" r="3.4"/>
</g>
<g fill="#f26b4f">
<use href="#t" x="1019" y="289"/><use href="#t" x="1016" y="320"/><use href="#t" x="1035" y="334"/><use href="#t" x="1031" y="338"/><use href="#t" x="1019" y="348"/><use href="#t" x="1012" y="363"/><use href="#t" x="1020" y="366"/><use href="#t" x="1034" y="368"/><use href="#t" x="1037" y="380"/><use href="#t" x="1024" y="389"/><use href="#t" x="1013" y="395"/><use href="#t" x="1033" y="397"/><use href="#t" x="1018" y="403"/><use href="#t" x="1028" y="405"/><use href="#t" x="1038" y="407"/><use href="#t" x="1023" y="413"/><use href="#t" x="1013" y="419"/><use href="#t" x="1033" y="417"/><use href="#t" x="1026" y="421"/><use href="#t" x="1039" y="424"/><use href="#t" x="1016" y="425"/><use href="#t" x="1030" y="427"/><use href="#t" x="1037" y="429"/><use href="#t" x="1022" y="430"/>
</g>
</g>
<g stroke="#444">
<line x1="927" y1="412.5" x2="973" y2="412.5" stroke-width="2"/>
<line x1="931" y1="409.5" x2="969" y2="409.5" stroke-width="1.2"/><line x1="931" y1="415.5" x2="969" y2="415.5" stroke-width="1.2"/>
<line x1="997" y1="391" x2="1047" y2="391" stroke-width="2"/>
<line x1="1001" y1="387.5" x2="1043" y2="387.5" stroke-width="1.2"/><line x1="1001" y1="394.5" x2="1043" y2="394.5" stroke-width="1.2"/>
</g>
</svg>
</body></html>
